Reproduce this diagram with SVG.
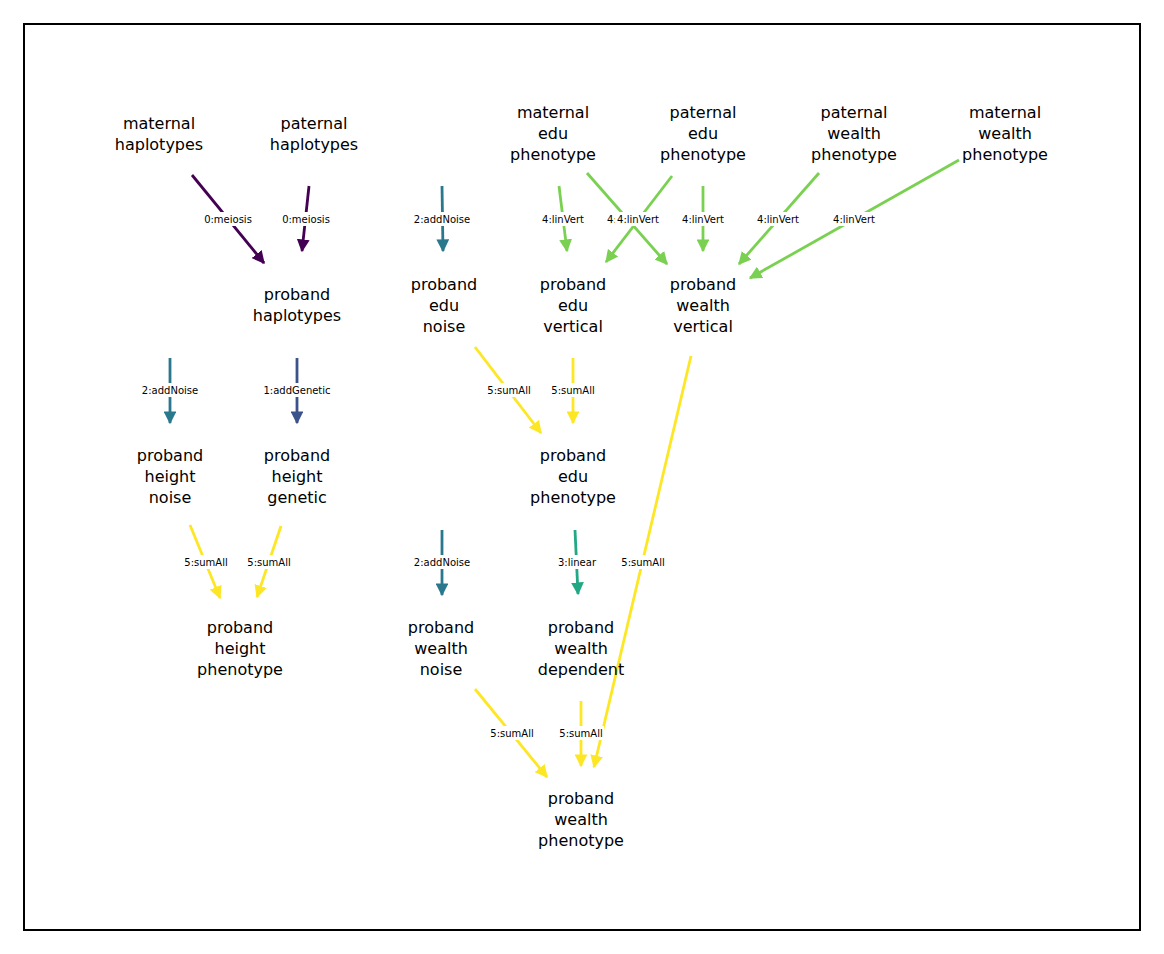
<svg xmlns="http://www.w3.org/2000/svg" width="1164" height="954" viewBox="0 0 1164 954">
<style>
.n{font-family:"DejaVu Sans",sans-serif;font-size:16px;text-anchor:middle;fill:#000}
.l{font-family:"DejaVu Sans",sans-serif;font-size:10px;text-anchor:middle;fill:#000}
.e{stroke-width:2.8;fill:none}
</style>
<defs>
<marker id="a1" viewBox="0 0 10 10" refX="9" refY="5" markerWidth="4.6" markerHeight="4.6" orient="auto" markerUnits="strokeWidth"><path d="M0,0L10,5L0,10z" fill="#440154"/></marker>
<marker id="a2" viewBox="0 0 10 10" refX="9" refY="5" markerWidth="4.6" markerHeight="4.6" orient="auto" markerUnits="strokeWidth"><path d="M0,0L10,5L0,10z" fill="#3b528b"/></marker>
<marker id="a3" viewBox="0 0 10 10" refX="9" refY="5" markerWidth="4.6" markerHeight="4.6" orient="auto" markerUnits="strokeWidth"><path d="M0,0L10,5L0,10z" fill="#2a788e"/></marker>
<marker id="a4" viewBox="0 0 10 10" refX="9" refY="5" markerWidth="4.6" markerHeight="4.6" orient="auto" markerUnits="strokeWidth"><path d="M0,0L10,5L0,10z" fill="#22a884"/></marker>
<marker id="a5" viewBox="0 0 10 10" refX="9" refY="5" markerWidth="4.6" markerHeight="4.6" orient="auto" markerUnits="strokeWidth"><path d="M0,0L10,5L0,10z" fill="#7ad151"/></marker>
<marker id="a6" viewBox="0 0 10 10" refX="9" refY="5" markerWidth="4.6" markerHeight="4.6" orient="auto" markerUnits="strokeWidth"><path d="M0,0L10,5L0,10z" fill="#fde725"/></marker>
</defs>
<rect width="1164" height="954" fill="#fff"/>
<rect x="24" y="24" width="1116" height="906" fill="none" stroke="#000" stroke-width="2"/>
<g id="connectors">
<g class="e" stroke="#440154" marker-end="url(#a1)">
<line x1="192" y1="175" x2="264" y2="263"/><line x1="309" y1="186" x2="302" y2="251"/></g>
<g class="e" stroke="#3b528b" marker-end="url(#a2)"><line x1="297" y1="358" x2="297" y2="423"/></g>
<g class="e" stroke="#2a788e" marker-end="url(#a3)">
<line x1="442" y1="186" x2="443" y2="251"/><line x1="170" y1="358" x2="170" y2="423"/><line x1="442" y1="530" x2="442" y2="595"/></g>
<g class="e" stroke="#22a884" marker-end="url(#a4)"><line x1="575" y1="530" x2="578" y2="594"/></g>
<g class="e" stroke="#7ad151" marker-end="url(#a5)">
<line x1="559" y1="186" x2="567" y2="251"/><line x1="587" y1="173" x2="667" y2="264"/><line x1="672" y1="176" x2="606" y2="262"/><line x1="703" y1="186" x2="703" y2="251"/><line x1="819" y1="173" x2="739" y2="264"/><line x1="959" y1="160" x2="750" y2="278"/></g>
<g class="e" stroke="#fde725" marker-end="url(#a6)">
<line x1="475" y1="347" x2="541" y2="433"/><line x1="573" y1="358" x2="573" y2="423"/><line x1="691" y1="356" x2="594" y2="767"/><line x1="190" y1="525" x2="220" y2="598"/><line x1="281" y1="526" x2="257" y2="597"/><line x1="475" y1="689" x2="547" y2="777"/><line x1="581" y1="701" x2="581" y2="766"/></g>
<g fill="#fff">
<rect x="203" y="212" width="51" height="14"/><rect x="280" y="212" width="52" height="14"/><rect x="413" y="212" width="59" height="14"/>
<rect x="541" y="212" width="45" height="14"/><rect x="605" y="212" width="30" height="14"/><rect x="681" y="212" width="45" height="14"/><rect x="756" y="212" width="45" height="14"/><rect x="832" y="212" width="45" height="14"/>
<rect x="141" y="383" width="59" height="14"/><rect x="262" y="383" width="70" height="14"/><rect x="486" y="383" width="46" height="14"/><rect x="550" y="383" width="46" height="14"/>
<rect x="183" y="555" width="46" height="14"/><rect x="246" y="555" width="46" height="14"/><rect x="413" y="555" width="59" height="14"/><rect x="557" y="555" width="40" height="14"/><rect x="620" y="555" width="46" height="14"/>
<rect x="489" y="726" width="46" height="14"/><rect x="558" y="726" width="46" height="14"/></g>
<g class="l">
<text x="228" y="223">0:meiosis</text><text x="306" y="223">0:meiosis</text><text x="442" y="223">2:addNoise</text>
<text x="563" y="223">4:linVert</text><text x="628" y="223">4:linVert</text></g>
<rect x="615" y="212" width="46" height="14" fill="#fff"/>
<g class="l"><text x="638" y="223">4:linVert</text><text x="703" y="223">4:linVert</text><text x="778" y="223">4:linVert</text><text x="854" y="223">4:linVert</text>
<text x="170" y="394">2:addNoise</text><text x="297" y="394">1:addGenetic</text><text x="509" y="394">5:sumAll</text><text x="573" y="394">5:sumAll</text>
<text x="206" y="566">5:sumAll</text><text x="269" y="566">5:sumAll</text><text x="442" y="566">2:addNoise</text><text x="577" y="566">3:linear</text><text x="643" y="566">5:sumAll</text>
<text x="512" y="737">5:sumAll</text><text x="581" y="737">5:sumAll</text></g>
</g>
<g id="maternal_haplotypes" class="n"><text x="159" y="129">maternal</text><text x="159" y="150">haplotypes</text></g>
<g id="paternal_haplotypes" class="n"><text x="314" y="129">paternal</text><text x="314" y="150">haplotypes</text></g>
<g id="maternal_edu_phenotype" class="n"><text x="553" y="118">maternal</text><text x="553" y="139">edu</text><text x="553" y="160">phenotype</text></g>
<g id="paternal_edu_phenotype" class="n"><text x="703" y="118">paternal</text><text x="703" y="139">edu</text><text x="703" y="160">phenotype</text></g>
<g id="paternal_wealth_phenotype" class="n"><text x="854" y="118">paternal</text><text x="854" y="139">wealth</text><text x="854" y="160">phenotype</text></g>
<g id="maternal_wealth_phenotype" class="n"><text x="1005" y="118">maternal</text><text x="1005" y="139">wealth</text><text x="1005" y="160">phenotype</text></g>
<g id="proband_haplotypes" class="n"><text x="297" y="300">proband</text><text x="297" y="321">haplotypes</text></g>
<g id="proband_edu_noise" class="n"><text x="444" y="290">proband</text><text x="444" y="311">edu</text><text x="444" y="332">noise</text></g>
<g id="proband_edu_vertical" class="n"><text x="573" y="290">proband</text><text x="573" y="311">edu</text><text x="573" y="332">vertical</text></g>
<g id="proband_wealth_vertical" class="n"><text x="703" y="290">proband</text><text x="703" y="311">wealth</text><text x="703" y="332">vertical</text></g>
<g id="proband_height_noise" class="n"><text x="170" y="461">proband</text><text x="170" y="482">height</text><text x="170" y="503">noise</text></g>
<g id="proband_height_genetic" class="n"><text x="297" y="461">proband</text><text x="297" y="482">height</text><text x="297" y="503">genetic</text></g>
<g id="proband_edu_phenotype" class="n"><text x="573" y="461">proband</text><text x="573" y="482">edu</text><text x="573" y="503">phenotype</text></g>
<g id="proband_height_phenotype" class="n"><text x="240" y="633">proband</text><text x="240" y="654">height</text><text x="240" y="675">phenotype</text></g>
<g id="proband_wealth_noise" class="n"><text x="441" y="633">proband</text><text x="441" y="654">wealth</text><text x="441" y="675">noise</text></g>
<g id="proband_wealth_dependent" class="n"><text x="581" y="633">proband</text><text x="581" y="654">wealth</text><text x="581" y="675">dependent</text></g>
<g id="proband_wealth_phenotype" class="n"><text x="581" y="804">proband</text><text x="581" y="825">wealth</text><text x="581" y="846">phenotype</text></g>
</svg>
